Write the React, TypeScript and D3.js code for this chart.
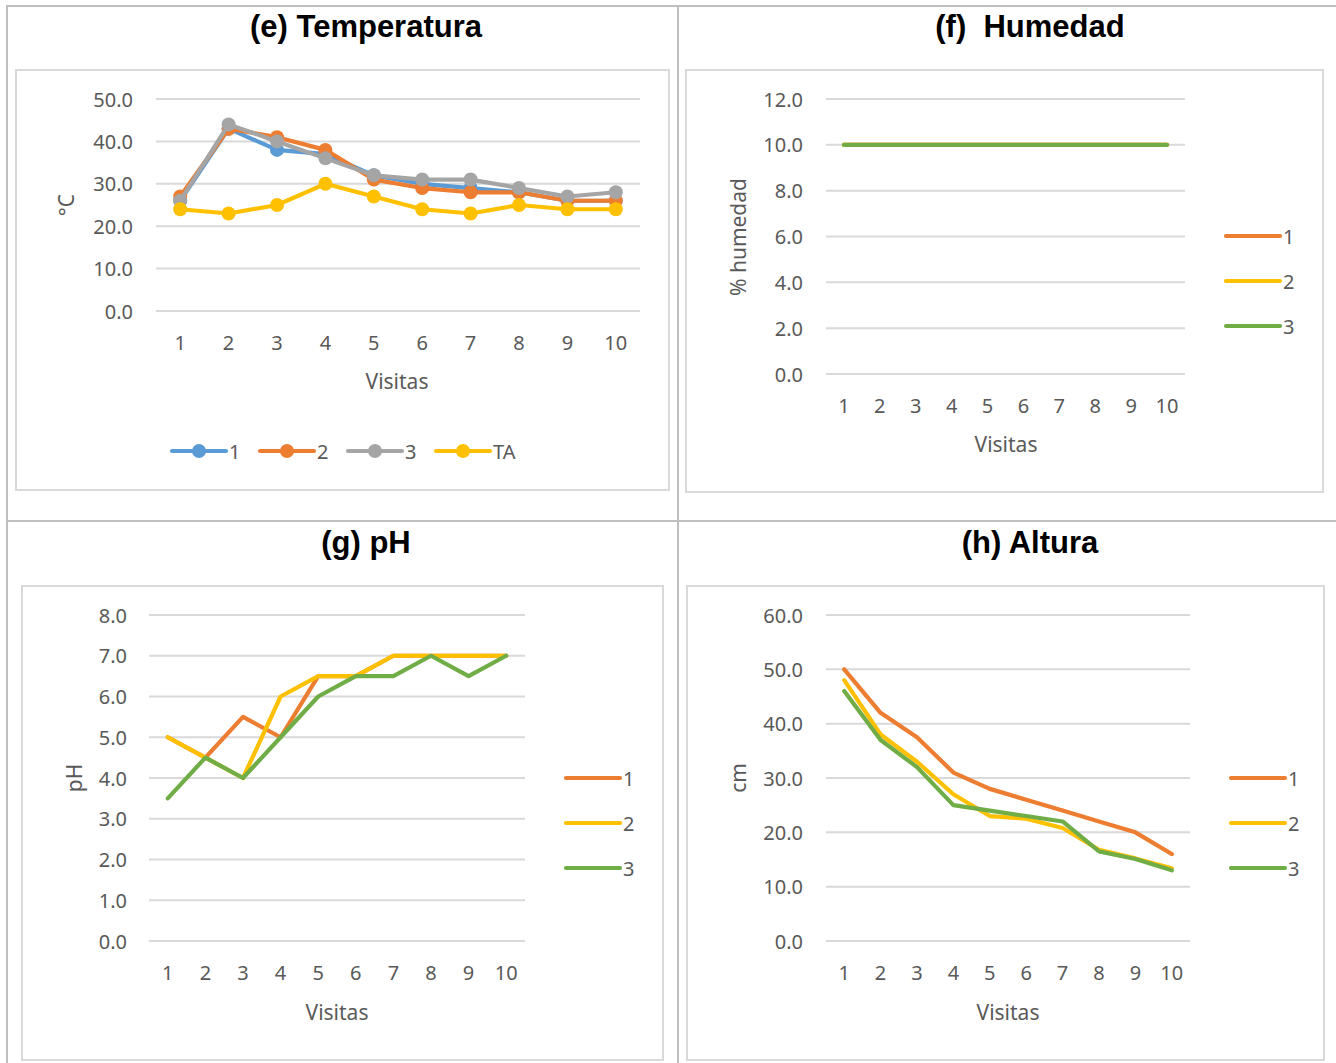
import React from "react";
import * as d3 from "d3";

const visitas = ["1", "2", "3", "4", "5", "6", "7", "8", "9", "10"];

// (e) Temperatura
const tempNames = ["1", "2", "3", "TA"];
const temp1 = [26, 43, 38, 37, 32, 30, 29, 28, 26, 26];
const temp2 = [27, 43, 41, 38, 31, 29, 28, 28, 26, 26];
const temp3 = [26, 44, 40, 36, 32, 31, 31, 29, 27, 28];
const tempTA = [24, 23, 25, 30, 27, 24, 23, 25, 24, 24];
const tempTicks = [0, 10, 20, 30, 40, 50];

// (f) Humedad
const humNames = ["1", "2", "3"];
const hum1 = [10, 10, 10, 10, 10, 10, 10, 10, 10, 10];
const hum2 = [10, 10, 10, 10, 10, 10, 10, 10, 10, 10];
const hum3 = [10, 10, 10, 10, 10, 10, 10, 10, 10, 10];
const humTicks = [0, 2, 4, 6, 8, 10, 12];

// (g) pH
const phNames = ["1", "2", "3"];
const ph1 = [5.0, 4.5, 5.5, 5.0, 6.5, 6.5, 7.0, 7.0, 7.0, 7.0];
const ph2 = [5.0, 4.5, 4.0, 6.0, 6.5, 6.5, 7.0, 7.0, 7.0, 7.0];
const ph3 = [3.5, 4.5, 4.0, 5.0, 6.0, 6.5, 6.5, 7.0, 6.5, 7.0];
const phTicks = [0, 1, 2, 3, 4, 5, 6, 7, 8];

// (h) Altura
const altNames = ["1", "2", "3"];
const alt1 = [50, 42, 37.5, 31, 28, 26, 24, 22, 20, 16];
const alt2 = [48, 38, 33, 27, 23, 22.5, 20.8, 16.8, 15.2, 13.4];
const alt3 = [46, 37, 32, 25, 24, 23, 22, 16.5, 15.1, 13];
const altTicks = [0, 10, 20, 30, 40, 50, 60];

const BLUE = "#5B9BD5";
const ORANGE = "#ED7D31";
const GRAY = "#A5A5A5";
const YELLOW = "#FFC000";
const GREEN = "#70AD47";
const TEXT = "#595959";
const GRID = "#D9D9D9";
const FONT = "'Noto Sans', 'Open Sans', sans-serif";

type Series = { name: string; values: number[]; color: string };

type ChartProps = {
  box: { x: number; y: number; w: number; h: number };
  plotX: [number, number];
  plotY: [number, number]; // bottom, top
  domain: [number, number];
  ticks: number[];
  series: Series[];
  yTitle: string;
  yTitleX: number;
  yTitleY: number;
  yLabelX: number;
  xLabelY: number;
  xTitleX: number;
  xTitleY: number;
  markers?: boolean;
  legend: "bottom" | "right";
  legendPos: { x: number; y: number; gap: number };
};

function Chart(p: ChartProps) {
  const x = d3.scaleBand<string>().domain(visitas).range(p.plotX).padding(0);
  const y = d3.scaleLinear().domain(p.domain).range(p.plotY);
  const cx = (c: string) => (x(c) as number) + x.bandwidth() / 2;
  const line = d3
    .line<number>()
    .x((_, i) => cx(visitas[i]))
    .y((d) => y(d));
  return (
    <g>
      <rect x={p.box.x} y={p.box.y} width={p.box.w} height={p.box.h} fill="#fff" stroke={GRID} strokeWidth={2} />
      {p.ticks.map((t) => (
        <g key={t}>
          <line x1={p.plotX[0]} x2={p.plotX[1]} y1={y(t)} y2={y(t)} stroke={GRID} strokeWidth={2} />
          <text x={p.yLabelX} y={y(t)} textAnchor="end" dominantBaseline="central" fontSize={20} fill={TEXT} fontFamily={FONT}>
            {t.toFixed(1)}
          </text>
        </g>
      ))}
      {visitas.map((v) => (
        <text key={v} x={cx(v)} y={p.xLabelY} textAnchor="middle" dominantBaseline="central" fontSize={20} fill={TEXT} fontFamily={FONT}>
          {v}
        </text>
      ))}
      <text x={p.xTitleX} y={p.xTitleY} textAnchor="middle" dominantBaseline="central" fontSize={21} fill={TEXT} fontFamily={FONT}>
        Visitas
      </text>
      <text
        transform={`translate(${p.yTitleX},${p.yTitleY}) rotate(-90)`}
        textAnchor="middle"
        dominantBaseline="central"
        fontSize={21}
        fill={TEXT}
        fontFamily={FONT}
      >
        {p.yTitle}
      </text>
      {p.series.map((s) => (
        <g key={s.name}>
          <path d={line(s.values) || ""} fill="none" stroke={s.color} strokeWidth={4.2} strokeLinejoin="round" strokeLinecap="round" />
          {p.markers &&
            s.values.map((v, i) => <circle key={i} cx={cx(visitas[i])} cy={y(v)} r={7} fill={s.color} />)}
        </g>
      ))}
      {p.series.map((s, i) => {
        const lx = p.legend === "bottom" ? p.legendPos.x + i * p.legendPos.gap : p.legendPos.x;
        const ly = p.legend === "bottom" ? p.legendPos.y : p.legendPos.y + i * p.legendPos.gap;
        return (
          <g key={"lg" + s.name}>
            <line x1={lx} x2={lx + 54} y1={ly} y2={ly} stroke={s.color} strokeWidth={4.2} strokeLinecap="round" />
            {p.markers && <circle cx={lx + 27} cy={ly} r={7} fill={s.color} />}
            <text x={lx + 57} y={ly} dominantBaseline="central" fontSize={20} fill={TEXT} fontFamily={FONT}>
              {s.name}
            </text>
          </g>
        );
      })}
    </g>
  );
}

export default function App() {
  const tempSeries: Series[] = [
    { name: tempNames[0], values: temp1, color: BLUE },
    { name: tempNames[1], values: temp2, color: ORANGE },
    { name: tempNames[2], values: temp3, color: GRAY },
    { name: tempNames[3], values: tempTA, color: YELLOW },
  ];
  const humSeries: Series[] = [
    { name: humNames[0], values: hum1, color: ORANGE },
    { name: humNames[1], values: hum2, color: YELLOW },
    { name: humNames[2], values: hum3, color: GREEN },
  ];
  const phSeries: Series[] = [
    { name: phNames[0], values: ph1, color: ORANGE },
    { name: phNames[1], values: ph2, color: YELLOW },
    { name: phNames[2], values: ph3, color: GREEN },
  ];
  const altSeries: Series[] = [
    { name: altNames[0], values: alt1, color: ORANGE },
    { name: altNames[1], values: alt2, color: YELLOW },
    { name: altNames[2], values: alt3, color: GREEN },
  ];
  const titleStyle = { fontFamily: "'Liberation Sans', Arial, sans-serif", fontWeight: 700, fontSize: 31 };
  return (
    <svg width={1336} height={1063} style={{ position: "absolute", left: 0, top: 0, background: "#fff" }}>
      <rect x={0} y={0} width={1336} height={1063} fill="#fff" />
      {/* table borders */}
      <line x1={6} x2={1336} y1={6} y2={6} stroke="#BFBFBF" strokeWidth={2} />
      <line x1={7} x2={7} y1={5} y2={1063} stroke="#BFBFBF" strokeWidth={2} />
      <line x1={678} x2={678} y1={5} y2={1063} stroke="#BFBFBF" strokeWidth={2} />
      <line x1={6} x2={1336} y1={521} y2={521} stroke="#BFBFBF" strokeWidth={2} />

      <text x={366} y={26} textAnchor="middle" dominantBaseline="central" {...titleStyle}>(e) Temperatura</text>
      <text x={1030} y={26} textAnchor="middle" dominantBaseline="central" {...titleStyle} style={{ whiteSpace: "pre" }}>
        {"(f)  Humedad"}
      </text>
      <text x={366} y={542} textAnchor="middle" dominantBaseline="central" {...titleStyle}>(g) pH</text>
      <text x={1030} y={542} textAnchor="middle" dominantBaseline="central" {...titleStyle}>(h) Altura</text>

      <Chart
        box={{ x: 16, y: 70, w: 653, h: 420 }}
        plotX={[156, 640]}
        plotY={[311, 99]}
        domain={[0, 50]}
        ticks={tempTicks}
        series={tempSeries}
        yTitle="°C"
        yTitleX={66}
        yTitleY={205}
        yLabelX={133}
        xLabelY={342}
        xTitleX={397}
        xTitleY={381}
        markers
        legend="bottom"
        legendPos={{ x: 172, y: 451, gap: 88 }}
      />
      <Chart
        box={{ x: 686, y: 70, w: 637, h: 422 }}
        plotX={[826, 1185]}
        plotY={[374, 99]}
        domain={[0, 12]}
        ticks={humTicks}
        series={humSeries}
        yTitle="% humedad"
        yTitleX={738}
        yTitleY={237}
        yLabelX={803}
        xLabelY={405}
        xTitleX={1006}
        xTitleY={444}
        legend="right"
        legendPos={{ x: 1226, y: 236, gap: 45 }}
      />
      <Chart
        box={{ x: 22, y: 586, w: 641, h: 474 }}
        plotX={[149, 525]}
        plotY={[941, 615]}
        domain={[0, 8]}
        ticks={phTicks}
        series={phSeries}
        yTitle="pH"
        yTitleX={74}
        yTitleY={778}
        yLabelX={127}
        xLabelY={972}
        xTitleX={337}
        xTitleY={1012}
        legend="right"
        legendPos={{ x: 566, y: 778, gap: 45 }}
      />
      <Chart
        box={{ x: 687, y: 586, w: 637, h: 474 }}
        plotX={[826, 1190]}
        plotY={[941, 615]}
        domain={[0, 60]}
        ticks={altTicks}
        series={altSeries}
        yTitle="cm"
        yTitleX={738}
        yTitleY={778}
        yLabelX={803}
        xLabelY={972}
        xTitleX={1008}
        xTitleY={1012}
        legend="right"
        legendPos={{ x: 1231, y: 778, gap: 45 }}
      />
    </svg>
  );
}
